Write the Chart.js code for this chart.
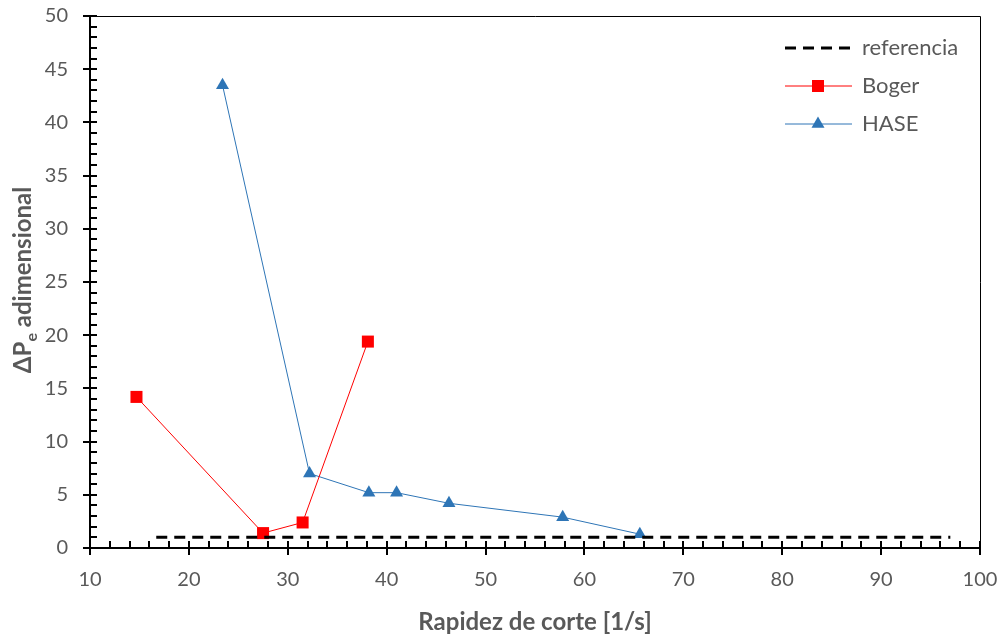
<!DOCTYPE html>
<html>
<head>
<meta charset="utf-8">
<script src="https://cdn.jsdelivr.net/npm/chart.js@4"></script>
<style>
  html, body { margin: 0; padding: 0; background: #fff; }
  #wrap { width: 1003px; height: 637px; }
</style>
</head>
<body>
<div id="wrap"><canvas id="chart" width="1003" height="637"></canvas></div>
<script>
// datos
const refX = [16.7, 97];
const refY = [1, 1];
const bogerX = [14.7, 27.5, 31.5, 38.1];
const bogerY = [14.2, 1.4, 2.4, 19.4];
const haseX = [23.4, 32.2, 38.2, 41.0, 46.3, 57.8, 65.6];
const haseY = [43.5, 7.0, 5.2, 5.2, 4.2, 2.9, 1.3];

const xTitle = 'Rapidez de corte [1/s]';
const yTitleMain = 'ΔP';
const yTitleSub = 'e';
const yTitleRest = ' adimensional';

const FONT = 'Lato, "Open Sans", sans-serif';
const GREY = '#595959';

function toPoints(xs, ys) {
    return xs.map((x, i) => ({ x: x, y: ys[i] }));
}

// ejes, marcas menores, marco, título Y y leyenda
const decoPlugin = {
    id: 'deco',
    afterDraw(chart) {
        const ctx = chart.ctx;
        const a = chart.chartArea;
        const xs = chart.scales.x;
        const ys = chart.scales.y;
        ctx.save();

        // marco superior y derecho
        ctx.strokeStyle = '#000';
        ctx.lineWidth = 1;
        ctx.beginPath();
        ctx.moveTo(a.left, a.top + 0.5);
        ctx.lineTo(a.right + 0.5, a.top + 0.5);
        ctx.lineTo(a.right + 0.5, a.bottom);
        ctx.stroke();

        // ejes
        ctx.lineWidth = 2;
        ctx.beginPath();
        ctx.moveTo(a.left, a.top);
        ctx.lineTo(a.left, a.bottom);
        ctx.lineTo(a.right + 1, a.bottom);
        ctx.stroke();

        // marcas eje X
        for (let v = 10; v <= 100; v += 2) {
            const px = Math.round(xs.getPixelForValue(v));
            ctx.beginPath();
            ctx.moveTo(px, a.bottom - 7);
            ctx.lineTo(px, v % 10 === 0 ? a.bottom + 7 : a.bottom);
            ctx.stroke();
        }
        // marcas eje Y
        for (let v = 0; v <= 50; v += 1) {
            const py = Math.round(ys.getPixelForValue(v));
            ctx.beginPath();
            ctx.moveTo(v % 5 === 0 ? a.left - 7 : a.left, py);
            ctx.lineTo(a.left + 7, py);
            ctx.stroke();
        }

        // título eje Y con subíndice
        ctx.translate(23, 280);
        ctx.rotate(-Math.PI / 2);
        ctx.fillStyle = GREY;
        ctx.textBaseline = 'middle';
        const big = 'bold 24px ' + FONT;
        const small = 'bold 16px ' + FONT;
        ctx.font = big;
        const w1 = ctx.measureText(yTitleMain).width;
        const w3 = ctx.measureText(yTitleRest).width;
        ctx.font = small;
        const w2 = ctx.measureText(yTitleSub).width;
        let tx = -(w1 + w2 + w3) / 2;
        ctx.font = big;
        ctx.fillText(yTitleMain, tx, 0);
        tx += w1;
        ctx.font = small;
        ctx.fillText(yTitleSub, tx, 9);
        tx += w2;
        ctx.font = big;
        ctx.fillText(yTitleRest, tx, 0);
        ctx.restore();

        // leyenda
        ctx.save();
        const rows = [48, 86, 124];
        chart.data.datasets.forEach((ds, i) => {
            const y = rows[i];
            ctx.strokeStyle = ds.borderColor;
            ctx.lineWidth = ds.borderWidth;
            ctx.setLineDash(ds.borderDash || []);
            ctx.beginPath();
            ctx.moveTo(785, y);
            ctx.lineTo(852, y);
            ctx.stroke();
            ctx.setLineDash([]);
            if (ds.pointRadius > 0) {
                ctx.fillStyle = ds.backgroundColor;
                ctx.strokeStyle = ds.borderColor;
                Chart.helpers.drawPoint(ctx, {
                    pointStyle: ds.pointStyle,
                    radius: ds.pointRadius,
                    borderWidth: 0
                }, 818, y);
            }
            ctx.fillStyle = GREY;
            ctx.font = '22px ' + FONT;
            ctx.textBaseline = 'middle';
            ctx.fillText(ds.label, 862, y);
        });
        ctx.restore();
    }
};

function initChart() {
    const ctx = document.getElementById('chart').getContext('2d');
    new Chart(ctx, {
        type: 'scatter',
        data: {
            datasets: [{
                label: 'referencia',
                data: toPoints(refX, refY),
                showLine: true,
                borderColor: '#000',
                backgroundColor: '#000',
                borderWidth: 3,
                borderDash: [11, 7],
                pointRadius: 0
            }, {
                label: 'Boger',
                data: toPoints(bogerX, bogerY),
                showLine: true,
                borderColor: '#ff0000',
                backgroundColor: '#ff0000',
                borderWidth: 1,
                pointStyle: 'rect',
                pointRadius: 8.5,
                pointBorderWidth: 0
            }, {
                label: 'HASE',
                data: toPoints(haseX, haseY),
                showLine: true,
                borderColor: '#2e75b6',
                backgroundColor: '#2e75b6',
                borderWidth: 1,
                pointStyle: 'triangle',
                pointRadius: 7.5,
                pointBorderWidth: 0
            }]
        },
        options: {
            responsive: false,
            animation: false,
            layout: { padding: { top: 16, right: 23, left: 0, bottom: 0 } },
            plugins: {
                legend: { display: false },
                tooltip: { enabled: false }
            },
            scales: {
                x: {
                    type: 'linear',
                    min: 10,
                    max: 100,
                    afterFit: (s) => { s.height = 89; s.paddingLeft = 0; s.paddingRight = 0; },
                    grid: { display: false, drawTicks: false },
                    border: { display: false },
                    ticks: { stepSize: 10, color: GREY, padding: 20, font: { family: FONT, size: 20 } },
                    title: {
                        display: true,
                        text: xTitle,
                        color: GREY,
                        font: { family: FONT, size: 24, weight: 'bold' },
                        padding: { top: 10, bottom: 0 }
                    }
                },
                y: {
                    min: 0,
                    max: 50,
                    afterFit: (s) => { s.width = 90; s.paddingTop = 0; s.paddingBottom = 0; },
                    grid: { display: false, drawTicks: false },
                    border: { display: false },
                    ticks: { stepSize: 5, color: GREY, padding: 22, font: { family: FONT, size: 20 } }
                }
            }
        },
        plugins: [decoPlugin]
    });
}

window.addEventListener('load', () => {
    initChart();
});
</script>
</body>
</html>
